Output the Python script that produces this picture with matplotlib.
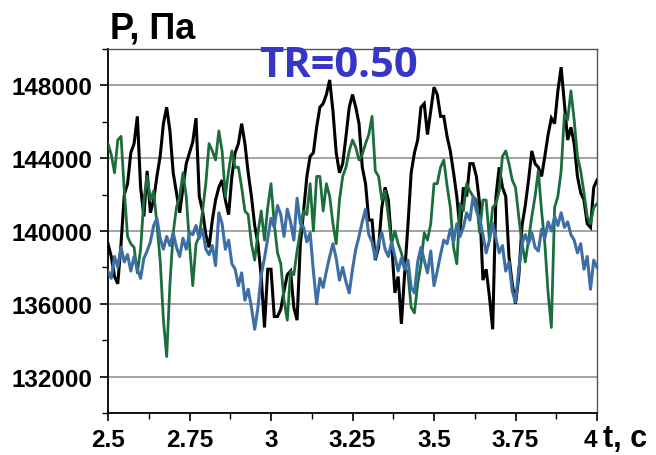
import numpy as np
import matplotlib
matplotlib.use("Agg")
import matplotlib.pyplot as plt
from matplotlib.ticker import MultipleLocator, FuncFormatter

# time grid (s), sampled every 0.01 s from 2.5 to 4.0
t = np.round(np.arange(2.50, 4.0001, 0.01), 2)

# pressure readings, kPa
black_kpa = [139.3, 138.6, 137.5, 137.1, 139.3, 142.0, 142.6, 144.3, 144.8, 146.3,
             142.4, 140.8, 143.3, 141.0, 141.7, 143.0, 144.1, 145.9, 146.8, 145.5,
             143.2, 142.1, 141.0, 142.4, 143.7, 144.3, 144.9, 146.2, 141.9, 141.1,
             139.8, 139.1, 140.6, 141.7, 142.4, 142.8, 141.7, 140.9, 143.0, 144.3,
             144.8, 145.9, 144.8, 143.2, 141.9, 140.3, 139.3, 137.5, 134.7, 137.9,
             137.9, 135.3, 135.3, 135.7, 136.7, 137.6, 137.8, 135.8, 135.1, 139.3,
             141.1, 143.0, 144.1, 144.3, 145.7, 146.8, 147.0, 147.5, 148.3, 146.6,
             144.3, 143.2, 143.7, 145.2, 146.8, 147.5, 146.8, 145.9, 143.5, 142.6,
             140.6, 140.6, 138.4, 139.1, 141.3, 142.4, 141.7, 139.3, 136.6, 137.5,
             134.9, 137.7, 140.3, 143.2, 144.3, 145.0, 146.8, 147.0, 145.3, 146.6,
             147.9, 147.5, 146.3, 146.3, 145.2, 144.4, 143.2, 141.9, 140.0, 142.4,
             141.9, 143.7, 143.7, 143.0, 141.5, 137.3, 137.9, 136.4, 134.6, 141.9,
             143.5, 142.4, 141.9, 138.6, 137.1, 136.0, 137.5, 140.3, 141.4, 142.8,
             144.4, 143.7, 143.5, 143.0, 144.1, 145.3, 146.2, 145.9, 147.7, 149.0,
             147.0, 145.0, 145.7, 144.8, 143.0, 142.1, 141.7, 140.4, 140.2, 142.4,
             142.8]

green_kpa = [144.8, 144.2, 143.2, 145.0, 145.2, 142.2, 139.7, 139.3, 139.1, 137.7,
             139.0, 141.7, 143.0, 141.7, 142.2, 140.4, 138.4, 135.1, 133.1, 137.1,
             139.9, 141.3, 141.9, 143.2, 141.9, 139.3, 137.0, 139.3, 139.7, 141.1,
             142.6, 144.8, 144.4, 143.9, 145.5, 144.4, 141.9, 143.3, 144.4, 143.5,
             143.5, 142.4, 141.1, 140.9, 139.3, 138.4, 139.9, 141.1, 139.5, 141.3,
             142.6, 140.4, 138.8, 138.2, 136.2, 135.1, 137.8, 137.6, 138.9, 140.0,
             141.1, 140.9, 142.6, 140.0, 143.0, 143.0, 141.1, 142.6, 141.9, 140.4,
             139.3, 141.7, 143.0, 143.5, 144.4, 145.0, 144.6, 143.9, 144.2, 144.8,
             145.3, 146.3, 143.3, 143.0, 141.7, 142.2, 140.8, 139.3, 140.0, 139.3,
             138.8, 138.0, 137.7, 135.8, 135.5, 137.1, 138.2, 139.9, 139.5, 140.4,
             142.6, 142.6, 143.5, 143.9, 142.5, 141.3, 139.1, 138.2, 141.5, 141.1,
             142.6, 142.2, 141.9, 141.7, 139.9, 141.7, 141.7, 139.5, 141.3, 141.5,
             142.2, 144.1, 144.4, 143.7, 142.8, 142.4, 140.8, 139.3, 138.3, 139.5,
             140.8, 141.9, 143.3, 141.1, 139.3, 136.6, 134.7, 141.3, 141.9, 143.3,
             146.4, 146.1, 147.7, 146.1, 144.1, 143.3, 142.1, 140.8, 140.4, 141.3,
             141.5]

blue_kpa = [137.8, 137.4, 138.6, 138.0, 139.1, 138.3, 138.7, 137.8, 138.6, 137.9,
            137.4, 138.5, 138.9, 139.4, 140.3, 140.7, 139.6, 139.0, 139.7, 139.2,
            139.9, 139.1, 138.6, 139.6, 139.0, 139.9, 139.8,
            140.3, 139.6, 140.1, 139.0, 138.7, 139.2, 138.1, 141.0, 140.4, 139.0,
            139.5, 138.2, 137.9, 137.0, 137.7, 136.2, 136.8, 135.8, 134.6, 135.8,
            137.6, 138.5, 139.6, 140.7, 140.2, 141.4,
            140.9, 139.7, 141.2, 140.5, 139.5, 141.8, 140.4, 140.2, 139.4, 139.9,
            137.8, 136.0, 137.4, 136.9, 137.8, 138.6, 139.3, 138.5, 137.3, 138.0,
            137.2, 136.6, 137.9, 139.0, 139.7, 140.5,
            141.2, 139.8, 139.4, 138.5, 139.4, 139.9, 139.0, 138.6, 139.4, 138.6,
            137.8, 138.5, 137.9, 138.4, 136.9, 136.6, 138.3, 139.1, 138.4, 137.7,
            138.9, 137.0, 137.8, 138.7, 139.5, 139.3,
            140.1, 139.4, 140.4, 139.7, 140.2, 141.0, 140.6, 141.9, 141.1, 140.7,
            139.8, 138.8, 139.5, 140.4, 139.6, 138.8, 139.2, 137.8, 138.3, 136.7,
            136.1, 137.9, 139.3, 139.8, 139.3, 139.9,
            139.1, 138.9, 140.1, 139.6, 140.5, 140.0, 140.8, 140.3, 141.0, 140.2,
            140.5, 139.8, 139.5, 138.8, 139.3, 137.9, 138.6, 136.8, 138.4, 138.0]

black = np.array(black_kpa) * 1000
green = np.array(green_kpa) * 1000
blue = np.array(blue_kpa) * 1000

title = "TR=0.50"
ylabel = "P, Па"
xlabel = "t, c"

plt.rcParams['font.family'] = ['Liberation Sans', 'DejaVu Sans']

fig = plt.figure(figsize=(6.56, 4.56), dpi=100)
ax = fig.add_axes([108/656, 1 - 414/456, (597-108)/656, (414-50)/456])

ax.plot(t, black, color='#000000', lw=2.2, zorder=3, solid_joinstyle='miter')
ax.plot(t, green, color='#1b6e3c', lw=2.0, zorder=3)
ax.plot(t, blue, color='#3d6fa6', lw=2.2, zorder=4)

ax.set_xlim(2.5, 4.0)
ax.set_ylim(130000, 150000)

ax.yaxis.set_major_locator(MultipleLocator(4000))
ax.yaxis.set_minor_locator(MultipleLocator(2000))
ax.xaxis.set_major_locator(MultipleLocator(0.25))
ax.xaxis.set_minor_locator(MultipleLocator(0.125))
ax.yaxis.set_major_formatter(FuncFormatter(lambda v, p: f"{int(round(v))}"))
ax.xaxis.set_major_formatter(FuncFormatter(lambda v, p: f"{v:g}"))

ax.grid(axis='y', which='major', color='#8a8a8a', lw=1.1, zorder=1)
ax.set_axisbelow(True)

for s in ['left', 'bottom']:
    ax.spines[s].set_color('black')
    ax.spines[s].set_linewidth(1.3)
for s in ['top', 'right']:
    ax.spines[s].set_color('#555555')
    ax.spines[s].set_linewidth(1.0)

ax.tick_params(axis='both', which='major', direction='out', length=6, width=1.2,
               labelsize=17.5, pad=5)
ax.tick_params(axis='both', which='minor', direction='out', length=4, width=1.0)
for lab in ax.get_xticklabels() + ax.get_yticklabels():
    lab.set_fontweight('bold')
# nudge the last x label left so it doesn't collide with the axis title
xl = ax.get_xticklabels()
for lab in xl:
    if lab.get_text() == '4':
        lab.set_horizontalalignment('right')
        lab.set_x(4.0)

fig.text(110/656, 1 - 38/456, ylabel, fontsize=26, fontweight='bold',
         ha='left', va='baseline')
fig.text(603/656, 1 - 447/456, xlabel, fontsize=22, fontweight='bold',
         ha='left', va='baseline')
fig.text(338/656, 1 - 77/456, title, fontsize=30, fontweight='bold',
         color='#3535c8', ha='center', va='baseline',
         family=['Open Sans', 'DejaVu Sans'], zorder=10)

fig.savefig('out.png', dpi=100)
